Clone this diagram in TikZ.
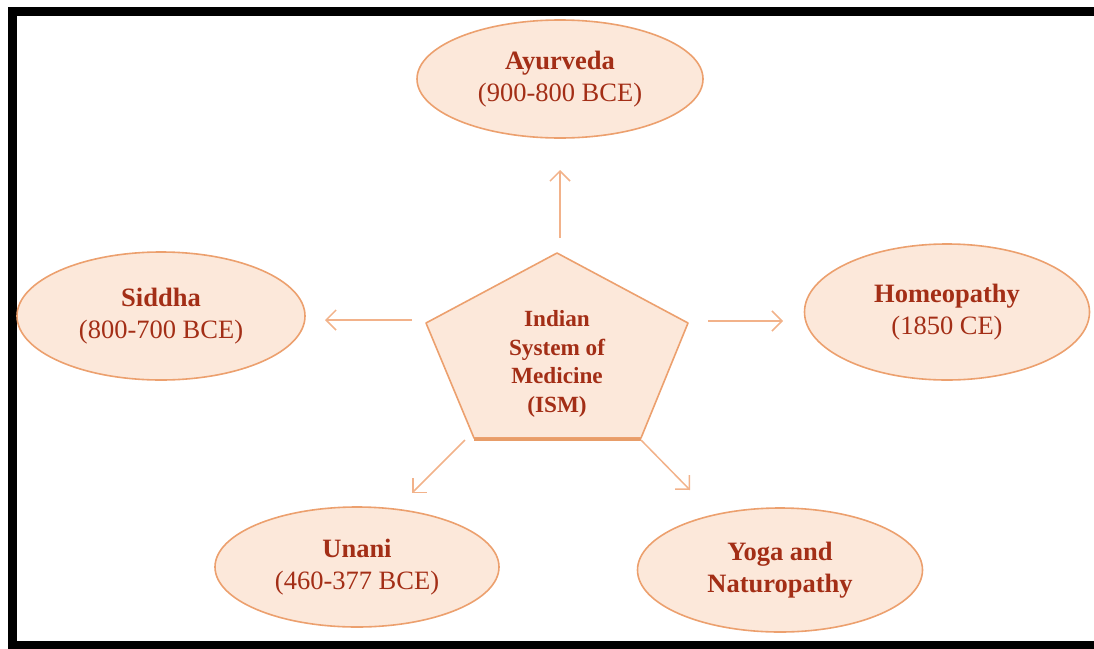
\documentclass[tikz,border=0pt]{standalone}
\usepackage{fontspec}
\setmainfont{Liberation Serif}
\usetikzlibrary{shapes.geometric,arrows.meta}
\definecolor{peach}{RGB}{252,232,218}
\definecolor{edgeor}{RGB}{236,160,110}
\definecolor{arrowor}{RGB}{242,178,138}
\definecolor{txtred}{RGB}{163,46,22}
\tikzset{
  ellbox/.style={ellipse, draw=edgeor, line width=1.6pt, fill=peach, inner sep=0pt,
    text=txtred, align=center, font=\fontsize{26.5}{31.5}\selectfont},
  conn/.style={draw=arrowor, line width=1.5pt, -{Straight Barb[length=10pt,width=20pt,line width=1.5pt]}},
}
\begin{document}
\begin{tikzpicture}[x=1pt,y=-1pt]
\useasboundingbox (0,0) rectangle (1094,648);
% frame
\draw[line width=9pt, black] (12.5,11.5) rectangle (1098,645);
% ellipses
\node[ellbox, minimum width=286, minimum height=118] (ayur) at (560,79) {\textbf{Ayurveda}\\(900-800 BCE)};
\node[ellbox, minimum width=288, minimum height=128] (siddha) at (161,316) {\textbf{Siddha}\\(800-700 BCE)};
\node[ellbox, minimum width=285, minimum height=136] (homeo) at (947,312) {\textbf{Homeopathy}\\(1850 CE)};
\node[ellbox, minimum width=284, minimum height=120] (unani) at (357,567) {\textbf{Unani}\\(460-377 BCE)};
\node[ellbox, minimum width=285, minimum height=124] (yoga) at (780,570) {\textbf{Yoga and}\\\textbf{Naturopathy}};
% pentagon
\coordinate (pt) at (557,253);
\coordinate (pr) at (688,323);
\coordinate (pbr) at (641,438);
\coordinate (pbl) at (474,438);
\coordinate (pl) at (426,323);
\draw[draw=edgeor, line width=1.6pt, fill=peach, line join=round] (pt) -- (pr) -- (pbr) -- (pbl) -- (pl) -- cycle;
\draw[draw=edgeor!90!brown, line width=3pt] ([yshift=-1.5]pbl) -- ([yshift=-1.5]pbr);
\node[text=txtred, align=center, font=\fontsize{23.2}{28.5}\selectfont\bfseries] (ism) at (557,364) {Indian\\System of\\Medicine\\(ISM)};
% connector coordinates
\coordinate (s1) at (560,238); \coordinate (e1) at (560,170);
\coordinate (s2) at (412,320); \coordinate (e2) at (325,320);
\coordinate (s3) at (708,321); \coordinate (e3) at (783,321);
\coordinate (s4) at (465,440); \coordinate (e4) at (412,493);
\coordinate (s5) at (641,440); \coordinate (e5) at (690,490);
\draw[conn] (s1) -- (e1);
\draw[conn] (s2) -- (e2);
\draw[conn] (s3) -- (e3);
\draw[conn] (s4) -- (e4);
\draw[conn] (s5) -- (e5);
\end{tikzpicture}
\end{document}
